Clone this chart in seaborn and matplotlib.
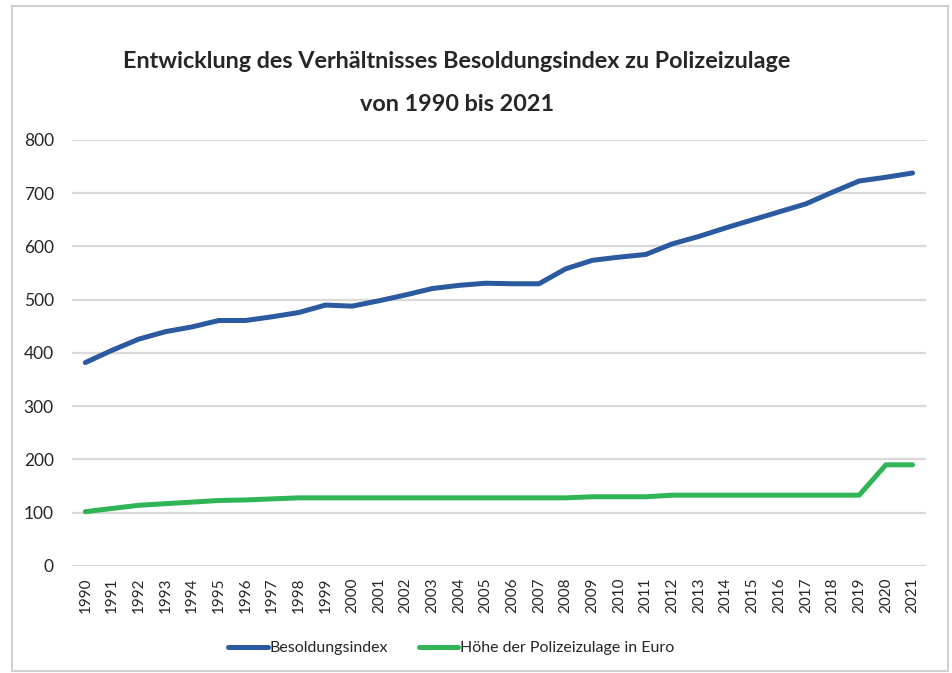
#importing necessary python libraries
import pandas as pd
import seaborn as sns
import numpy as np
import matplotlib.pyplot as plt
from matplotlib.patches import Rectangle

#data
years = list(range(1990, 2022))
besoldungsindex = [382, 405, 426, 440, 449, 461, 461, 468, 476, 490, 488, 498, 509, 521, 527, 531,
                   530, 530, 558, 574, 580, 585, 605, 619, 635, 650, 665, 680, 702, 723, 730, 738]
polizeizulage = [102, 108, 114, 117, 120, 123, 124, 126, 128, 128, 128, 128, 128, 128, 128, 128,
                 128, 128, 128, 130, 130, 130, 133, 133, 133, 133, 133, 133, 133, 133, 190, 190]
series_names = ["Besoldungsindex", "Höhe der Polizeizulage in Euro"]
colors = ["#2b5aa0", "#2fb556"]

#long format dataframe for seaborn
df = pd.DataFrame({
    "Jahr": years * 2,
    "Wert": besoldungsindex + polizeizulage,
    "Reihe": [series_names[0]] * len(years) + [series_names[1]] * len(years),
})

sns.set_style("white")
plt.rcParams['font.family'] = ['Lato', 'DejaVu Sans']

fig = plt.figure(figsize=(9.52, 6.73), dpi=100)
ax = fig.add_axes([0.0756, 0.159, 0.897, 0.633])

sns.lineplot(data=df, x="Jahr", y="Wert", hue="Reihe", palette=colors,
             linewidth=3.6, ax=ax, legend=False)

#axes styling
ax.set_xlim(1989.5, 2021.5)
ax.set_ylim(0, 800)
ax.set_yticks(range(0, 801, 100))
ax.set_xticks(years)
ax.set_xticklabels([str(y) for y in years], rotation=90, fontsize=11)
ax.tick_params(axis='y', labelsize=12.5, pad=13, length=0)
ax.tick_params(axis='x', pad=8, length=0)
ax.grid(axis='y', color='#d9d9d9', linewidth=1.6)
ax.set_axisbelow(True)
for s in ax.spines.values():
    s.set_visible(False)
ax.set_xlabel("")
ax.set_ylabel("")

#legend
handles = [plt.Line2D([], [], color=c, linewidth=3.6) for c in colors]
fig.legend(handles, series_names, loc='center', bbox_to_anchor=(0.474, 0.037),
           ncol=2, frameon=False, fontsize=11.5, handlelength=2.5,
           handletextpad=0.1, columnspacing=1.9)

#title in two lines
fig.text(0.48, 0.908, "Entwicklung des Verhältnisses Besoldungsindex zu Polizeizulage",
         ha='center', va='center', fontsize=16.8, fontweight='bold')
fig.text(0.48, 0.844, "von 1990 bis 2021",
         ha='center', va='center', fontsize=16.8, fontweight='bold')

#light frame around the chart
fig.patches.append(Rectangle((12 / 952, 2 / 673), 936 / 952, 665 / 673,
                             transform=fig.transFigure, fill=False,
                             edgecolor='#d0d0d0', linewidth=1.5))

plt.savefig("out.png", dpi=100)
